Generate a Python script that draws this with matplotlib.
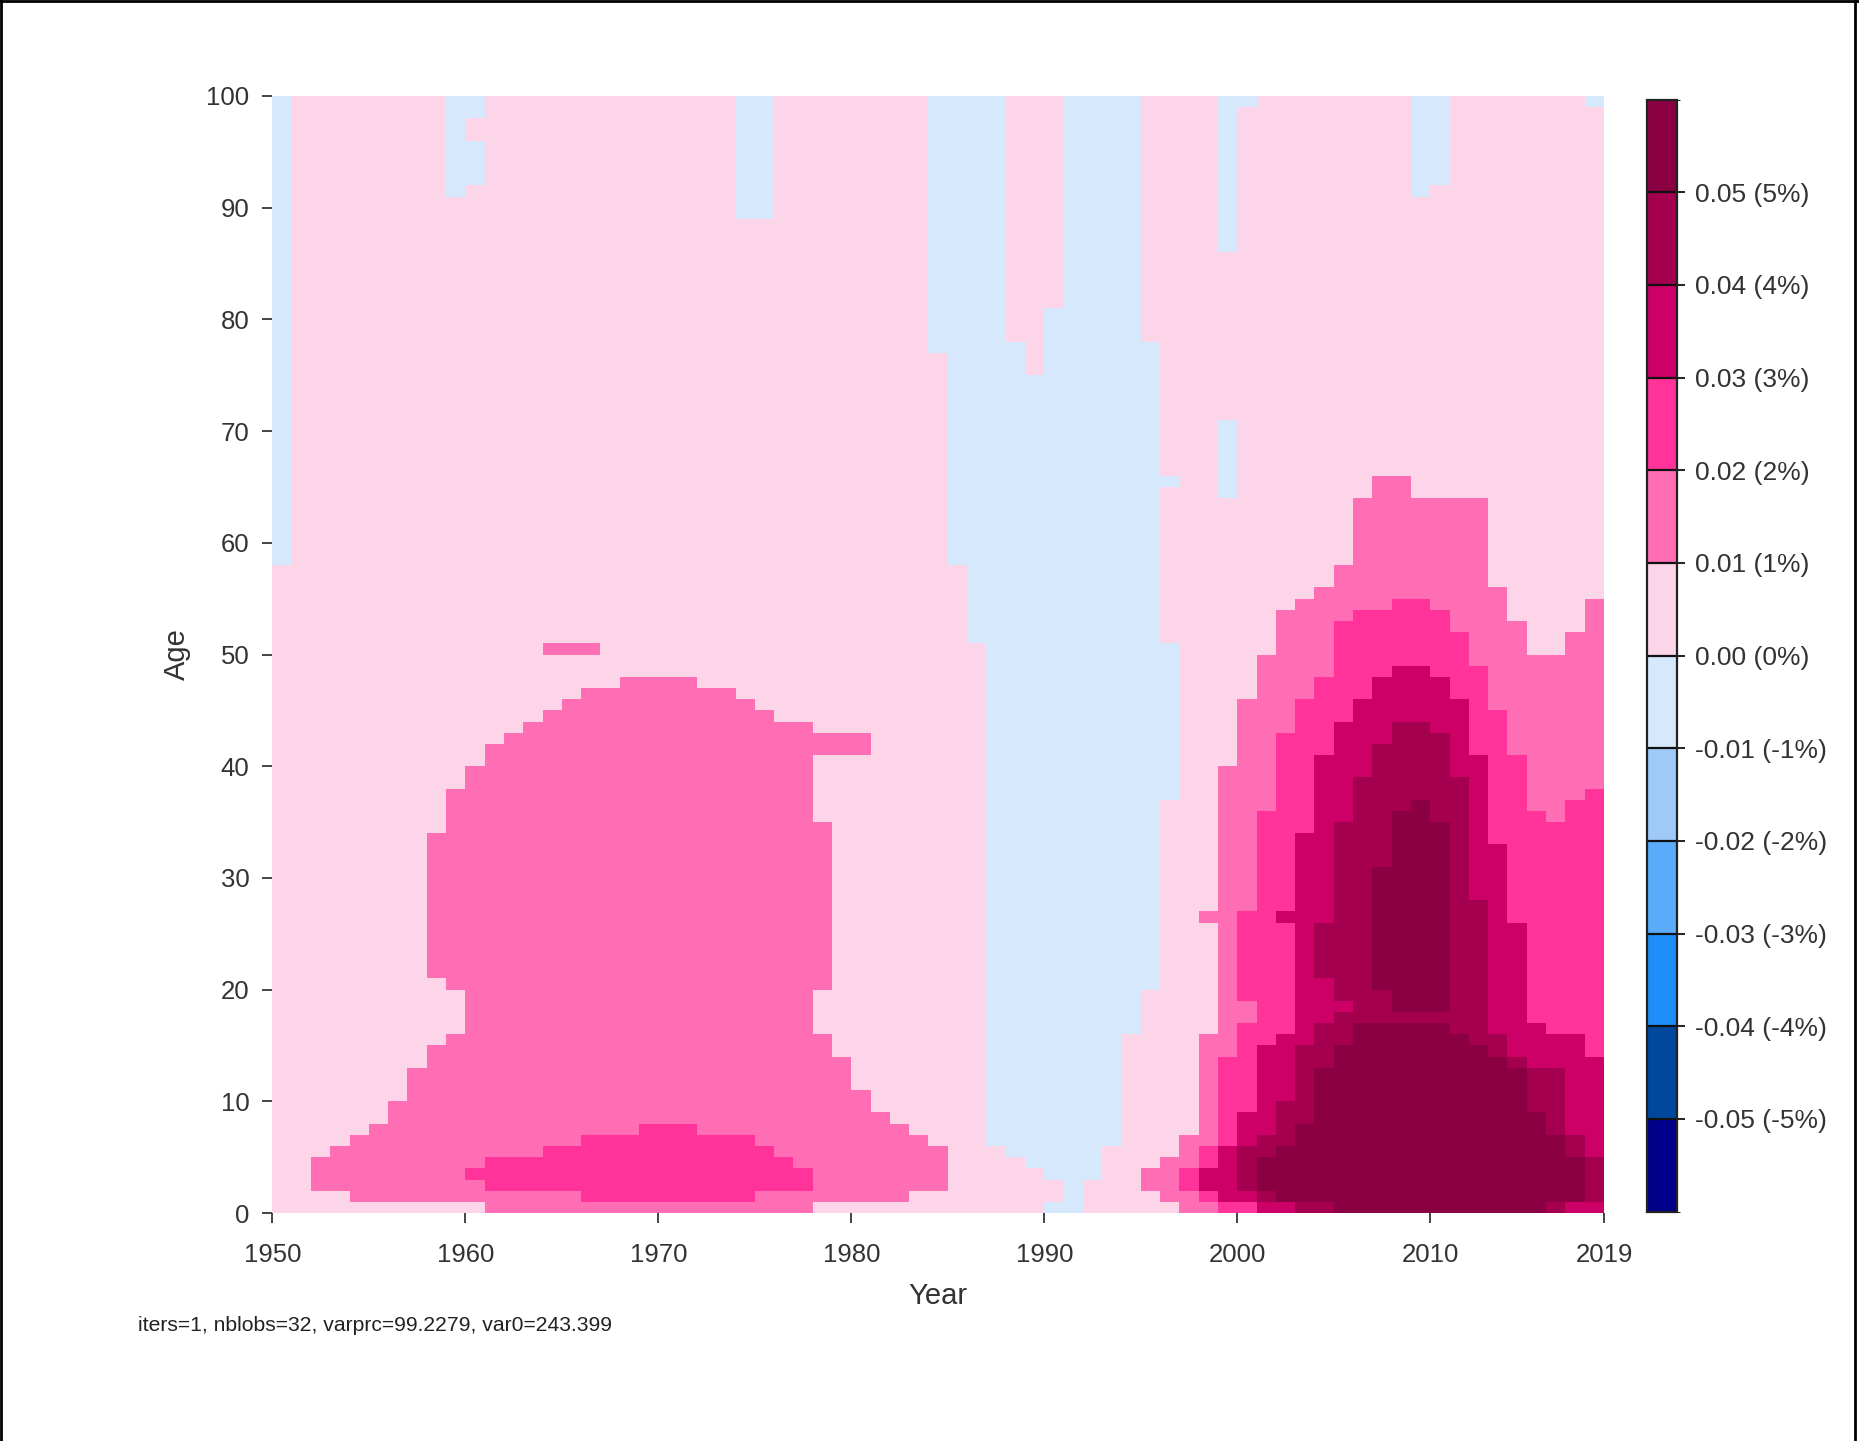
import numpy as np
import matplotlib
matplotlib.use("Agg")
import matplotlib.pyplot as plt
from matplotlib.colors import ListedColormap, BoundaryNorm
from matplotlib.lines import Line2D

plt.rcParams["font.family"] = ["Liberation Sans", "DejaVu Sans"]

# one column per year (1950..2018), one row per single year of age (0..99)
years = np.arange(1950, 2019)
ages = np.arange(0, 100)

# age spans [lo, hi) per year
below_zero = {  # -0.01 .. 0.00
    1950: [(58, 100)], 1959: [(91, 100)], 1960: [(92, 96), (98, 100)],
    1974: [(89, 100)], 1975: [(89, 100)],
    1984: [(77, 100)], 1985: [(58, 100)], 1986: [(51, 100)], 1987: [(6, 100)],
    1988: [(5, 78)], 1989: [(4, 75)], 1990: [(0, 1), (3, 81)], 1991: [(0, 100)],
    1992: [(3, 100)], 1993: [(6, 100)], 1994: [(16, 100)], 1995: [(20, 78)],
    1996: [(37, 51), (65, 66)], 1999: [(64, 71), (86, 100)], 2000: [(99, 100)],
    2009: [(91, 100)], 2010: [(92, 100)], 2018: [(99, 100)],
}

over_1pct = {
    1952: [(2, 5)], 1953: [(2, 6)], 1954: [(1, 7)], 1955: [(1, 8)], 1956: [(1, 10)],
    1957: [(1, 13)], 1958: [(1, 15), (21, 34)], 1959: [(1, 16), (20, 38)], 1960: [(1, 40)],
    1961: [(0, 42)], 1962: [(0, 43)], 1963: [(0, 44)],
    1964: [(0, 45), (50, 51)], 1965: [(0, 46), (50, 51)], 1966: [(0, 47), (50, 51)],
    1967: [(0, 47)], 1968: [(0, 48)], 1969: [(0, 48)], 1970: [(0, 48)], 1971: [(0, 48)],
    1972: [(0, 47)], 1973: [(0, 47)], 1974: [(0, 46)], 1975: [(0, 45)], 1976: [(0, 44)],
    1977: [(0, 44)], 1978: [(1, 16), (20, 35), (41, 43)], 1979: [(1, 14), (41, 43)],
    1980: [(1, 11), (41, 43)], 1981: [(1, 9)], 1982: [(1, 8)], 1983: [(2, 7)], 1984: [(2, 6)],
    1995: [(2, 4)], 1996: [(1, 5)], 1997: [(0, 7)], 1998: [(0, 16), (26, 27)],
    1999: [(0, 40)], 2000: [(0, 46)], 2001: [(0, 50)], 2002: [(0, 54)], 2003: [(0, 55)],
    2004: [(0, 56)], 2005: [(0, 58)], 2006: [(0, 64)], 2007: [(0, 66)], 2008: [(0, 66)],
    2009: [(0, 64)], 2010: [(0, 64)], 2011: [(0, 64)], 2012: [(0, 64)], 2013: [(0, 56)],
    2014: [(0, 53)], 2015: [(0, 50)], 2016: [(0, 50)], 2017: [(0, 52)], 2018: [(0, 55)],
}

over_2pct = {
    1960: [(3, 4)], 1961: [(2, 5)], 1962: [(2, 5)], 1963: [(2, 5)], 1964: [(2, 6)],
    1965: [(2, 6)], 1966: [(1, 7)], 1967: [(1, 7)], 1968: [(1, 7)], 1969: [(1, 8)],
    1970: [(1, 8)], 1971: [(1, 8)], 1972: [(1, 7)], 1973: [(1, 7)], 1974: [(1, 7)],
    1975: [(2, 6)], 1976: [(2, 5)], 1977: [(2, 4)],
    1997: [(2, 4)], 1998: [(1, 6)], 1999: [(0, 14)], 2000: [(0, 17), (19, 27)],
    2001: [(0, 36)], 2002: [(0, 43)], 2003: [(0, 46)], 2004: [(0, 48)], 2005: [(0, 53)],
    2006: [(0, 54)], 2007: [(0, 54)], 2008: [(0, 55)], 2009: [(0, 55)], 2010: [(0, 54)],
    2011: [(0, 52)], 2012: [(0, 49)], 2013: [(0, 45)], 2014: [(0, 41)], 2015: [(0, 36)],
    2016: [(0, 35)], 2017: [(0, 37)], 2018: [(0, 38)],
}

over_3pct = {
    1998: [(2, 4)], 1999: [(1, 6)], 2000: [(1, 9)], 2001: [(0, 15)],
    2002: [(0, 16), (26, 27)], 2003: [(0, 34)], 2004: [(0, 41)], 2005: [(0, 44)],
    2006: [(0, 46)], 2007: [(0, 48)], 2008: [(0, 49)], 2009: [(0, 49)], 2010: [(0, 48)],
    2011: [(0, 46)], 2012: [(0, 41)], 2013: [(0, 33)], 2014: [(0, 26)], 2015: [(0, 17)],
    2016: [(0, 16)], 2017: [(0, 16)], 2018: [(0, 14)],
}

over_4pct = {
    2000: [(2, 6)], 2001: [(1, 7)], 2002: [(1, 10)], 2003: [(0, 15)],
    2004: [(0, 17), (21, 26)], 2005: [(0, 18), (19, 35)], 2006: [(0, 39)], 2007: [(0, 42)],
    2008: [(0, 44)], 2009: [(0, 44)], 2010: [(0, 43)], 2011: [(0, 39)], 2012: [(0, 28)],
    2013: [(0, 16)], 2014: [(0, 14)], 2015: [(0, 13)], 2016: [(0, 13)], 2017: [(1, 7)],
    2018: [(1, 5)],
}

over_5pct = {
    2001: [(2, 5)], 2002: [(1, 6)], 2003: [(1, 8)], 2004: [(1, 13)], 2005: [(0, 15)],
    2006: [(0, 17)], 2007: [(0, 17), (20, 31)], 2008: [(0, 17), (18, 36)],
    2009: [(0, 17), (18, 37)], 2010: [(0, 17), (18, 35)], 2011: [(0, 16)], 2012: [(0, 15)],
    2013: [(0, 14)], 2014: [(0, 13)], 2015: [(0, 9)], 2016: [(1, 7)], 2017: [(1, 5)],
}

bin_edges = np.round(np.arange(-0.06, 0.0601, 0.01), 2)
bin_colors = ["#00008B", "#00479E", "#1E8EFA", "#5AABF9", "#9DCAF9", "#D5E8FC",
              "#FDD5E8", "#FF6EB4", "#FF3399", "#CC0066", "#A5004F", "#8B0042"]
cbar_ticks = np.round(np.arange(-0.05, 0.0501, 0.01), 2)

# build the grid: mid value of each bin
grid = np.full((len(ages), len(years)), 0.005)
for yr, spans in below_zero.items():
    for lo, hi in spans:
        grid[lo:hi, yr - years[0]] = -0.005
for k, level in enumerate([over_1pct, over_2pct, over_3pct, over_4pct, over_5pct], start=1):
    for yr, spans in level.items():
        for lo, hi in spans:
            grid[lo:hi, yr - years[0]] = 0.005 + 0.01 * k

cmap = ListedColormap(bin_colors)
norm = BoundaryNorm(bin_edges, cmap.N)

fig = plt.figure(figsize=(18.59, 14.41), dpi=100)
ax = fig.add_axes([0.1465, 0.1582, 0.7163, 0.7752])

x_edges = np.append(years, years[-1] + 1)
y_edges = np.append(ages, ages[-1] + 1)
mesh = ax.pcolormesh(x_edges, y_edges, grid, cmap=cmap, norm=norm, shading="flat")

ax.set_xlim(1950, 2019)
ax.set_ylim(0, 100)
for s in ax.spines.values():
    s.set_visible(False)

ax.set_xticks([1950, 1960, 1970, 1980, 1990, 2000, 2010, 2019])
ax.set_yticks(range(0, 101, 10))
ax.tick_params(axis="both", length=7.5, width=1.4, color="#444444",
               labelsize=18.5, labelcolor="#333333")
ax.tick_params(axis="x", pad=14)
ax.tick_params(axis="y", pad=9)

ax.set_xlabel("Year", fontsize=21, color="#333333")
ax.set_ylabel("Age", fontsize=21, color="#333333")
ax.xaxis.set_label_coords(0.5, -0.062)
ax.yaxis.set_label_coords(-0.061, 0.5)

# colour key
cax = fig.add_axes([0.8860, 0.1592, 0.0161, 0.7717])
cb = fig.colorbar(mesh, cax=cax, ticks=cbar_ticks, drawedges=True)
cb.outline.set_linewidth(1.6)
cb.outline.set_edgecolor("#222222")
cb.dividers.set_color("#111111")
cb.dividers.set_linewidth(1.6)
cb.ax.set_yticklabels([f"{v:.2f} ({v * 100:.0f}%)".replace("-0.00", "0.00").replace("(-0%)", "(0%)")
                       for v in cbar_ticks])
cb.ax.tick_params(length=6, width=1.4, color="#222222", labelsize=19,
                  labelcolor="#333333", pad=7)

fig.text(0.074, 0.0802, "iters=1, nblobs=32, varprc=99.2279, var0=243.399",
         fontsize=15.2, va="center", color="#222222")

# thin frame of the original screenshot
for xs, ys in [([0.0008, 0.0008], [0, 1]), ([0, 1], [0.9993, 0.9993]),
               ([0.998, 0.998], [0, 1])]:
    fig.add_artist(Line2D(xs, ys, transform=fig.transFigure, color="black", lw=2))

fig.savefig("out.png", dpi=100)
